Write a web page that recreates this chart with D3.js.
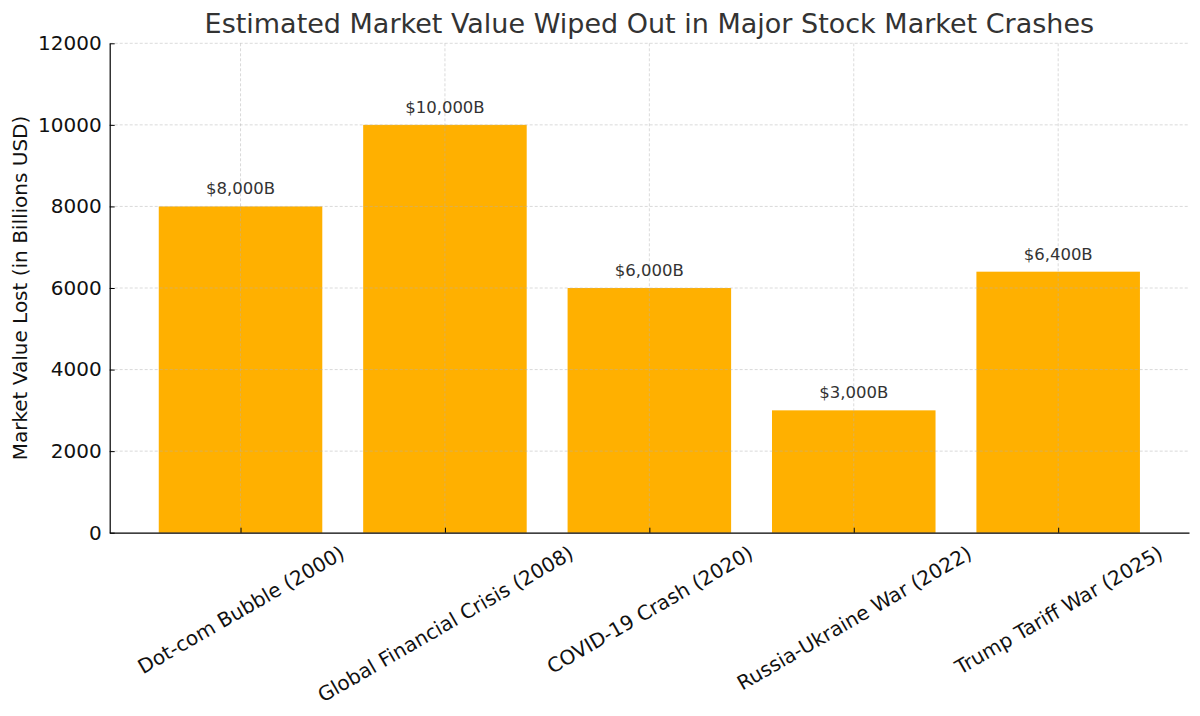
<!DOCTYPE html>
<html>
<head>
<meta charset="utf-8">
<script src="https://cdn.jsdelivr.net/npm/d3@7"></script>
<style>
  body { margin: 0; background: #fff; }
  svg text { font-family: "DejaVu Sans", sans-serif; }
</style>
</head>
<body>
<svg id="chart" width="1200" height="716"></svg>
<script>
var crashes = ["Dot-com Bubble (2000)", "Global Financial Crisis (2008)", "COVID-19 Crash (2020)", "Russia-Ukraine War (2022)", "Trump Tariff War (2025)"];
var valueLost = [8000, 10000, 6000, 3000, 6400];
var yTicks = [0, 2000, 4000, 6000, 8000, 10000, 12000];

var svg = d3.select('#chart');
var plotL = 109.7, plotR = 1189, plotT = 43.3, plotB = 532.7;
var tickFont = 20;

// bar positions follow matplotlib's index layout with 5% margins
var x = d3.scaleLinear().domain([-0.64, crashes.length - 1 + 0.64]).range([plotL, plotR]);
var y = d3.scaleLinear().domain([0, 12000]).range([plotB, plotT]);
var barW = x(0.4) - x(-0.4);

svg.selectAll('rect.bar')
   .data(valueLost)
   .enter()
   .append('rect')
   .attr('class', 'bar')
   .attr('x', (d, i) => x(i) - barW / 2)
   .attr('y', d => y(d))
   .attr('width', barW)
   .attr('height', d => y(0) - y(d))
   .attr('fill', '#ffb000');

// grid on top of the bars
var grid = svg.append('g')
   .attr('stroke', '#b0b0b0')
   .attr('stroke-opacity', 0.6)
   .attr('stroke-dasharray', '3,2')
   .attr('stroke-width', 0.8);
grid.selectAll('line.h')
   .data(yTicks.slice(1))
   .enter()
   .append('line')
   .attr('x1', plotL).attr('x2', plotR)
   .attr('y1', d => y(d)).attr('y2', d => y(d));
grid.selectAll('line.v')
   .data(crashes)
   .enter()
   .append('line')
   .attr('x1', (d, i) => x(i)).attr('x2', (d, i) => x(i))
   .attr('y1', plotT).attr('y2', plotB);

// y axis
var yAxis = svg.append('g')
   .attr('transform', 'translate(' + plotL + ',0)')
   .call(d3.axisLeft(y).tickValues(yTicks).tickFormat(d3.format('d')).tickSizeInner(-5).tickSizeOuter(0).tickPadding(8));
yAxis.select('.domain').attr('stroke', '#000').attr('stroke-width', 1.2);
yAxis.selectAll('.tick line').attr('stroke', '#000');
yAxis.selectAll('text').style('font-size', tickFont + 'px').attr('fill', '#111');

// x axis
var xAxis = svg.append('g')
   .attr('transform', 'translate(0,' + plotB + ')')
   .call(d3.axisBottom(x).tickValues(d3.range(crashes.length)).tickFormat(i => crashes[i]).tickSizeInner(-5).tickSizeOuter(0));
xAxis.select('.domain').attr('stroke', '#000').attr('stroke-width', 1.2);
xAxis.selectAll('.tick line').attr('stroke', '#000');
xAxis.selectAll('text')
   .style('font-size', tickFont + 'px')
   .attr('fill', '#111')
   .attr('text-anchor', 'middle')
   .attr('dominant-baseline', 'central')
   .each(function(){
      var w = this.getComputedTextLength();
      var h = tickFont * 1.1;
      var a = Math.PI / 6;
      var cy = 9 + (w * Math.sin(a) + h * Math.cos(a)) / 2;
      d3.select(this).attr('x', 0).attr('y', 0).attr('dy', null)
        .attr('transform', 'translate(0,' + cy + ') rotate(-30)');
   });

// value labels
svg.selectAll('text.val')
   .data(valueLost)
   .enter()
   .append('text')
   .attr('class', 'val')
   .attr('x', (d, i) => x(i))
   .attr('y', d => y(d) - 12)
   .attr('text-anchor', 'middle')
   .style('font-size', '16.5px')
   .attr('fill', '#333')
   .text(d => '$' + d3.format(',')(d) + 'B');

// title and y label
svg.append('text')
   .attr('x', (plotL + plotR) / 2)
   .attr('y', 33)
   .attr('text-anchor', 'middle')
   .style('font-size', '27px')
   .attr('fill', '#333')
   .text('Estimated Market Value Wiped Out in Major Stock Market Crashes');

svg.append('text')
   .attr('transform', 'translate(27,' + (plotT + plotB) / 2 + ') rotate(-90)')
   .attr('text-anchor', 'middle')
   .style('font-size', '20px')
   .attr('fill', '#111')
   .text('Market Value Lost (in Billions USD)');
</script>
</body>
</html>
